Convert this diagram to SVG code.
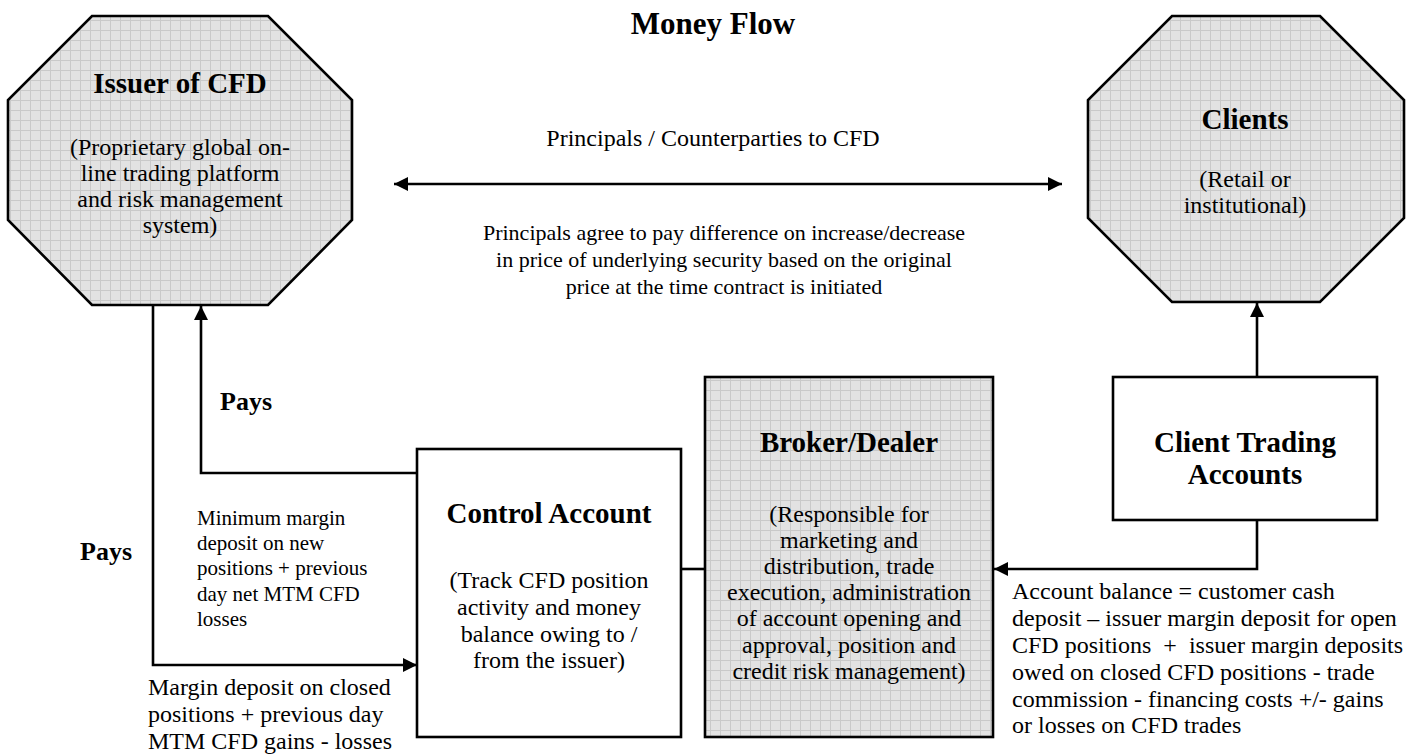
<svg xmlns="http://www.w3.org/2000/svg" width="1422" height="755" viewBox="0 0 1422 755">
<style>
text{font-family:"Liberation Serif","Times New Roman",serif;fill:#000}
.h{font-weight:bold;font-size:29px;text-anchor:middle}
.b{font-size:24px;text-anchor:middle}
.m{font-size:22px;text-anchor:middle}
.s{font-size:21px}
.l{font-size:24px}
.p{font-weight:bold;font-size:26px}
.t{font-weight:bold;font-size:31px;text-anchor:middle}
.node{stroke:#000;stroke-width:2.6}
.wire{fill:none;stroke:#000;stroke-width:2.6}
</style>
<defs>
<pattern id="grid" width="10" height="10" patternUnits="userSpaceOnUse">
<rect width="10" height="10" fill="#e2e2e2"/>
<path d="M0 0.5H10M0.5 0V10" stroke="#c9c9c9" stroke-width="1"/>
</pattern>
<marker id="ah" viewBox="0 0 10 10" refX="10" refY="5" markerWidth="5.4" markerHeight="5.4" orient="auto-start-reverse" markerUnits="strokeWidth">
<path d="M0 0L10 5L0 10z" fill="#000"/>
</marker>
</defs>
<rect width="1422" height="755" fill="#fff"/>
<text class="t" x="713" y="34">Money Flow</text>

<g id="connectors">
<line class="wire" x1="394" y1="184" x2="1062" y2="184" marker-start="url(#ah)" marker-end="url(#ah)"/>
<path class="wire" d="M153 305V665H417" marker-end="url(#ah)"/>
<path class="wire" d="M417 473H201V306" marker-end="url(#ah)"/>
<line class="wire" x1="681" y1="569" x2="705" y2="569"/>
<path class="wire" d="M1257 520V569H994" marker-end="url(#ah)"/>
<line class="wire" x1="1257" y1="377" x2="1257" y2="303" marker-end="url(#ah)"/>
</g>

<g id="issuer">
<polygon class="node" fill="url(#grid)" points="92,16 268,16 352,100 352,220 268,305 92,305 8,220 8,100"/>
<text class="h" x="180" y="93">Issuer of CFD</text>
<text class="b" x="180" y="155">(Proprietary global on-</text>
<text class="b" x="180" y="181">line trading platform</text>
<text class="b" x="180" y="207">and risk management</text>
<text class="b" x="180" y="233">system)</text>
</g>

<g id="clients">
<polygon class="node" fill="url(#grid)" points="1172,16 1320,16 1404,100 1404,218 1320,302 1172,302 1088,218 1088,100"/>
<text class="h" x="1245" y="129">Clients</text>
<text class="b" x="1245" y="187">(Retail or</text>
<text class="b" x="1245" y="213">institutional)</text>
</g>

<g id="control-account">
<rect class="node" fill="#fff" x="417" y="449" width="264" height="288"/>
<text class="h" x="549" y="523">Control Account</text>
<text class="b" x="549" y="588">(Track CFD position</text>
<text class="b" x="549" y="615">activity and money</text>
<text class="b" x="549" y="642">balance owing to /</text>
<text class="b" x="549" y="668">from the issuer)</text>
</g>

<g id="broker-dealer">
<rect class="node" fill="url(#grid)" x="705" y="377" width="288" height="360"/>
<text class="h" x="849" y="452">Broker/Dealer</text>
<text class="b" x="849" y="522">(Responsible for</text>
<text class="b" x="849" y="548">marketing and</text>
<text class="b" x="849" y="574">distribution, trade</text>
<text class="b" x="849" y="600">execution, administration</text>
<text class="b" x="849" y="626">of account opening and</text>
<text class="b" x="849" y="653">approval, position and</text>
<text class="b" x="849" y="679">credit risk management)</text>
</g>

<g id="client-trading-accounts">
<rect class="node" fill="#fff" x="1113" y="377" width="264" height="143"/>
<text class="h" x="1245" y="452">Client Trading</text>
<text class="h" x="1245" y="484">Accounts</text>
</g>

<g id="labels">
<text class="b" x="713" y="146">Principals / Counterparties to CFD</text>
<text class="m" x="724" y="240">Principals agree to pay difference on increase/decrease</text>
<text class="m" x="724" y="267">in price of underlying security based on the original</text>
<text class="m" x="724" y="294">price at the time contract is initiated</text>
<text class="p" x="220" y="410">Pays</text>
<text class="p" x="80" y="560">Pays</text>
<text class="s" x="197" y="525">Minimum margin</text>
<text class="s" x="197" y="550">deposit on new</text>
<text class="s" x="197" y="575">positions + previous</text>
<text class="s" x="197" y="601">day net MTM CFD</text>
<text class="s" x="197" y="626">losses</text>
<text class="l" x="148" y="695">Margin deposit on closed</text>
<text class="l" x="148" y="722">positions + previous day</text>
<text class="l" x="148" y="749">MTM CFD gains - losses</text>
<text class="l" x="1012" y="599">Account balance = customer cash</text>
<text class="l" x="1012" y="626">deposit – issuer margin deposit for open</text>
<text class="l" x="1012" y="653" xml:space="preserve">CFD positions  +  issuer margin deposits</text>
<text class="l" x="1012" y="680">owed on closed CFD positions - trade</text>
<text class="l" x="1012" y="707">commission - financing costs +/- gains</text>
<text class="l" x="1012" y="733">or losses on CFD trades</text>
</g>
</svg>
